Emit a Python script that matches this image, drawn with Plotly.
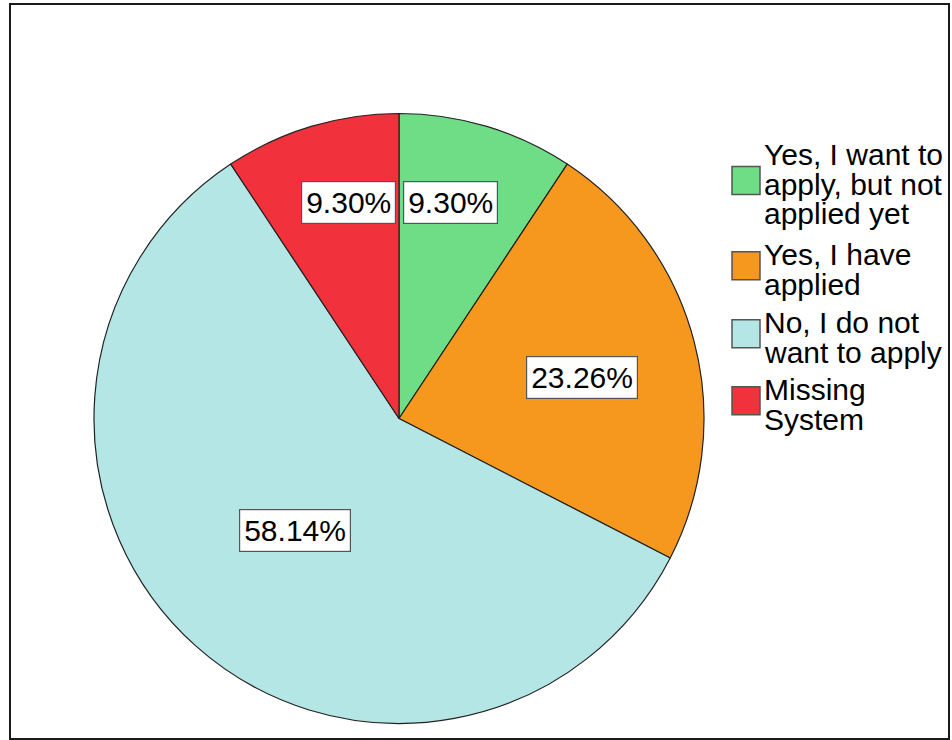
import math
import plotly.graph_objects as go

# Survey responses (percent of respondents)
categories = [
    "Yes, I want to apply, but not applied yet",
    "Yes, I have applied",
    "No, I do not want to apply",
    "Missing System",
]
legend_lines = [
    ["Yes, I want to", "apply, but not", "applied yet"],
    ["Yes, I have", "applied"],
    ["No, I do not", "want to apply"],
    ["Missing", "System"],
]
percents = [9.30, 23.26, 58.14, 9.30]
colors = ["#6fdc86", "#f7981e", "#b4e6e6", "#f1323c"]

W, H = 952, 740
FONT = "Liberation Sans, Arial, sans-serif"

# pie geometry in pixels
cx, cy, R = 399.0, 418.5, 305.0


def px(x):
    return x / W


def py(y):
    return 1 - y / H


fig = go.Figure(
    go.Pie(
        labels=categories,
        values=percents,
        sort=False,
        direction="clockwise",
        rotation=0,
        marker=dict(colors=colors, line=dict(color="#222222", width=1.2)),
        textinfo="none",
        hoverinfo="label+percent",
        showlegend=False,
        domain=dict(x=[px(cx - R), px(cx + R)], y=[py(cy + R), py(cy - R)]),
    )
)

annotations = []
shapes = []

# boxed percentage labels: (radius fraction, angle nudge in degrees)
label_place = [(0.728, -3.4), (0.615, 2.0), (0.50, 0.9), (0.728, 3.5)]
total = sum(percents)
start = 0.0
for val, (rf, nudge) in zip(percents, label_place):
    sweep = 360.0 * val / total
    mid = math.radians(start + sweep / 2 + nudge)
    start += sweep
    lx = cx + rf * R * math.sin(mid)
    ly = cy - rf * R * math.cos(mid)
    annotations.append(
        dict(
            x=px(lx), y=py(ly), xref="paper", yref="paper",
            text=f"{val:.2f}%", showarrow=False,
            font=dict(family=FONT, size=30, color="#000000"),
            bgcolor="#ffffff", bordercolor="#555555", borderwidth=1.2, borderpad=4,
            xanchor="center", yanchor="middle",
        )
    )

# legend drawn with swatches and tightly spaced text lines
fs = 30
line_gap = 29.5
first_baselines = [165, 265, 333, 400]
text_x = 762
for lines, col, base in zip(legend_lines, colors, first_baselines):
    for i, t in enumerate(lines):
        bl = base + i * line_gap
        annotations.append(
            dict(
                x=px(text_x), y=py(bl - 0.35 * fs), xref="paper", yref="paper",
                text=t, showarrow=False,
                font=dict(family=FONT, size=fs, color="#000000"),
                xanchor="left", yanchor="middle",
            )
        )
    block_mid = (base - 20 + base + (len(lines) - 1) * line_gap) / 2
    sc = block_mid - 4
    shapes.append(
        dict(
            type="rect", xref="paper", yref="paper",
            x0=px(732), x1=px(760), y0=py(sc + 14), y1=py(sc - 14),
            fillcolor=col, line=dict(color="#555555", width=1.5),
        )
    )

# outer frame
shapes.append(
    dict(
        type="rect", xref="paper", yref="paper",
        x0=px(10), x1=px(949), y0=py(739), y1=py(4),
        line=dict(color="#1a1a1a", width=2), fillcolor="rgba(0,0,0,0)",
    )
)

fig.update_layout(
    width=W, height=H,
    margin=dict(l=0, r=0, t=0, b=0),
    paper_bgcolor="#ffffff",
    plot_bgcolor="#ffffff",
    annotations=annotations,
    shapes=shapes,
)

fig.write_html("out.html")
